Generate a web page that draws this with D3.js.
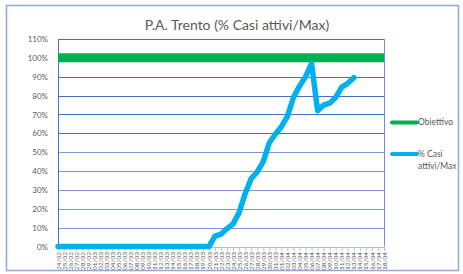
<!DOCTYPE html>
<html>
<head>
<meta charset="utf-8">
<script src="https://cdn.jsdelivr.net/npm/d3@7"></script>
<style>
  body { margin: 0; background: #fff; }
  svg text { font-family: Lato, "Open Sans", sans-serif; fill: #595959; }
</style>
</head>
<body>
<div class="graph"></div>
<script>
// Categories: one label per day
const days = [
    "24/02", "25/02", "26/02", "27/02", "28/02", "29/02",
    "01/03", "02/03", "03/03", "04/03", "05/03", "06/03", "07/03", "08/03", "09/03", "10/03",
    "11/03", "12/03", "13/03", "14/03", "15/03", "16/03", "17/03", "18/03", "19/03", "20/03",
    "21/03", "22/03", "23/03", "24/03", "25/03", "26/03", "27/03", "28/03", "29/03", "30/03",
    "31/03", "01/04", "02/04", "03/04", "04/04", "05/04", "06/04", "07/04", "08/04", "09/04",
    "10/04", "11/04", "12/04", "13/04", "14/04", "15/04", "16/04", "17/04", "18/04"
];

// % Casi attivi/Max (percent)
const casiAttivi = [
    0, 0, 0, 0, 0, 0, 0, 0, 0, 0,
    0, 0, 0, 0, 0, 0, 0, 0, 0, 0,
    0, 0, 0, 0, 0, 0, 5.5, 6.5, 9.5, 12,
    18, 28, 36, 39.5, 45, 55, 59.5, 63.5, 69, 79,
    85, 90, 97, 72, 75, 76, 79, 84.5, 86.5, 89.5
];

// Obiettivo (percent), flat target
const obiettivo = days.map(() => 100);

const yTicks = [0, 10, 20, 30, 40, 50, 60, 70, 80, 90, 100, 110];

const seriesNames = ["Obiettivo", "% Casi attivi/Max"];
const seriesColors = ["#00b050", "#00b0f0"];

function drawChart() {
    const dimensions = {
        width: 463,
        height: 274,
        plot: { left: 58, right: 384, top: 39, bottom: 246.5 }
    };

    const wrapper = d3.select(".graph")
        .append("svg")
            .attr("width", dimensions.width)
            .attr("height", dimensions.height);

    // Outer chart frame
    wrapper.append("rect")
        .attr("x", 6.5)
        .attr("y", 5.5)
        .attr("width", 452)
        .attr("height", 265)
        .attr("fill", "#fff")
        .attr("stroke", "#8eaadb")
        .attr("stroke-width", 1.5);

    wrapper.append("text")
        .attr("x", 237)
        .attr("y", 30)
        .attr("text-anchor", "middle")
        .style("font-size", "14px")
        .text("P.A. Trento (% Casi attivi/Max)");

    const xScale = d3.scalePoint()
        .domain(days)
        .range([dimensions.plot.left, dimensions.plot.right]);

    const yScale = d3.scaleLinear()
        .domain([0, 110])
        .range([dimensions.plot.bottom, dimensions.plot.top]);

    // Gridlines
    wrapper.append("g")
        .selectAll("line")
        .data(yTicks.slice(1))
        .join("line")
            .attr("x1", dimensions.plot.left)
            .attr("x2", dimensions.plot.right)
            .attr("y1", d => Math.round(yScale(d)) + 0.5)
            .attr("y2", d => Math.round(yScale(d)) + 0.5)
            .attr("stroke", d => d >= 60 ? "#4472c4" : "#7d99d4")
            .attr("stroke-width", 1);

    // Plot area sides
    wrapper.append("line")
        .attr("x1", dimensions.plot.left + 0.5).attr("x2", dimensions.plot.left + 0.5)
        .attr("y1", dimensions.plot.top).attr("y2", dimensions.plot.bottom)
        .attr("stroke", "#4472c4");
    wrapper.append("line")
        .attr("x1", dimensions.plot.right + 0.5).attr("x2", dimensions.plot.right + 0.5)
        .attr("y1", dimensions.plot.top).attr("y2", dimensions.plot.bottom)
        .attr("stroke", "#6f8fd0");

    // Y axis labels
    const yAxis = wrapper.append("g")
        .attr("transform", `translate(${dimensions.plot.left},0)`)
        .call(d3.axisLeft(yScale)
            .tickValues(yTicks)
            .tickFormat(d => d + "%")
            .tickSize(0)
            .tickPadding(10));
    yAxis.select(".domain").remove();
    yAxis.selectAll("text")
        .style("font-size", "8px")
        .attr("dy", "0.32em");

    // X axis with rotated day labels
    const xAxis = wrapper.append("g")
        .attr("transform", `translate(0,${dimensions.plot.bottom + 0.5})`)
        .call(d3.axisBottom(xScale).tickSize(4).tickSizeOuter(0).tickPadding(3));
    xAxis.select(".domain").attr("stroke", "#a9bde3");
    xAxis.selectAll(".tick line").attr("stroke", "#b4c4e4");
    xAxis.selectAll("text")
        .style("font-size", "6.5px")
        .attr("transform", "rotate(-90)")
        .attr("text-anchor", "end")
        .attr("x", -5)
        .attr("y", 0)
        .attr("dy", "0.32em");

    const lineGenerator = d3.line()
        .defined(d => d.v !== undefined)
        .x(d => xScale(d.day))
        .y(d => yScale(d.v));

    const goalData = days.map((day, i) => ({ day, v: obiettivo[i] }));
    const casiData = days.map((day, i) => ({ day, v: casiAttivi[i] }));

    wrapper.append("path")
        .attr("d", lineGenerator(goalData))
        .attr("fill", "none")
        .attr("stroke", seriesColors[0])
        .attr("stroke-width", 9);

    wrapper.append("path")
        .attr("d", lineGenerator(casiData))
        .attr("fill", "none")
        .attr("stroke", seriesColors[1])
        .attr("stroke-width", 5.5)
        .attr("stroke-linejoin", "round")
        .attr("stroke-linecap", "round");

    // Legend
    const legend = wrapper.append("g");
    const legendY = [122.5, 154];
    seriesNames.forEach((name, i) => {
        legend.append("line")
            .attr("x1", 392).attr("x2", 417)
            .attr("y1", legendY[i]).attr("y2", legendY[i])
            .attr("stroke", seriesColors[i])
            .attr("stroke-width", 4)
            .attr("stroke-linecap", "round");
        const t = legend.append("text")
            .attr("x", 418)
            .attr("y", legendY[i])
            .attr("dy", "0.35em")
            .style("font-size", "8.5px");
        if (i === 0) {
            t.text(name);
        } else {
            t.append("tspan").attr("x", 418).text("% Casi");
            t.append("tspan").attr("x", 418).attr("dy", "1.45em").text("attivi/Max");
        }
    });
}

drawChart();
</script>
</body>
</html>
